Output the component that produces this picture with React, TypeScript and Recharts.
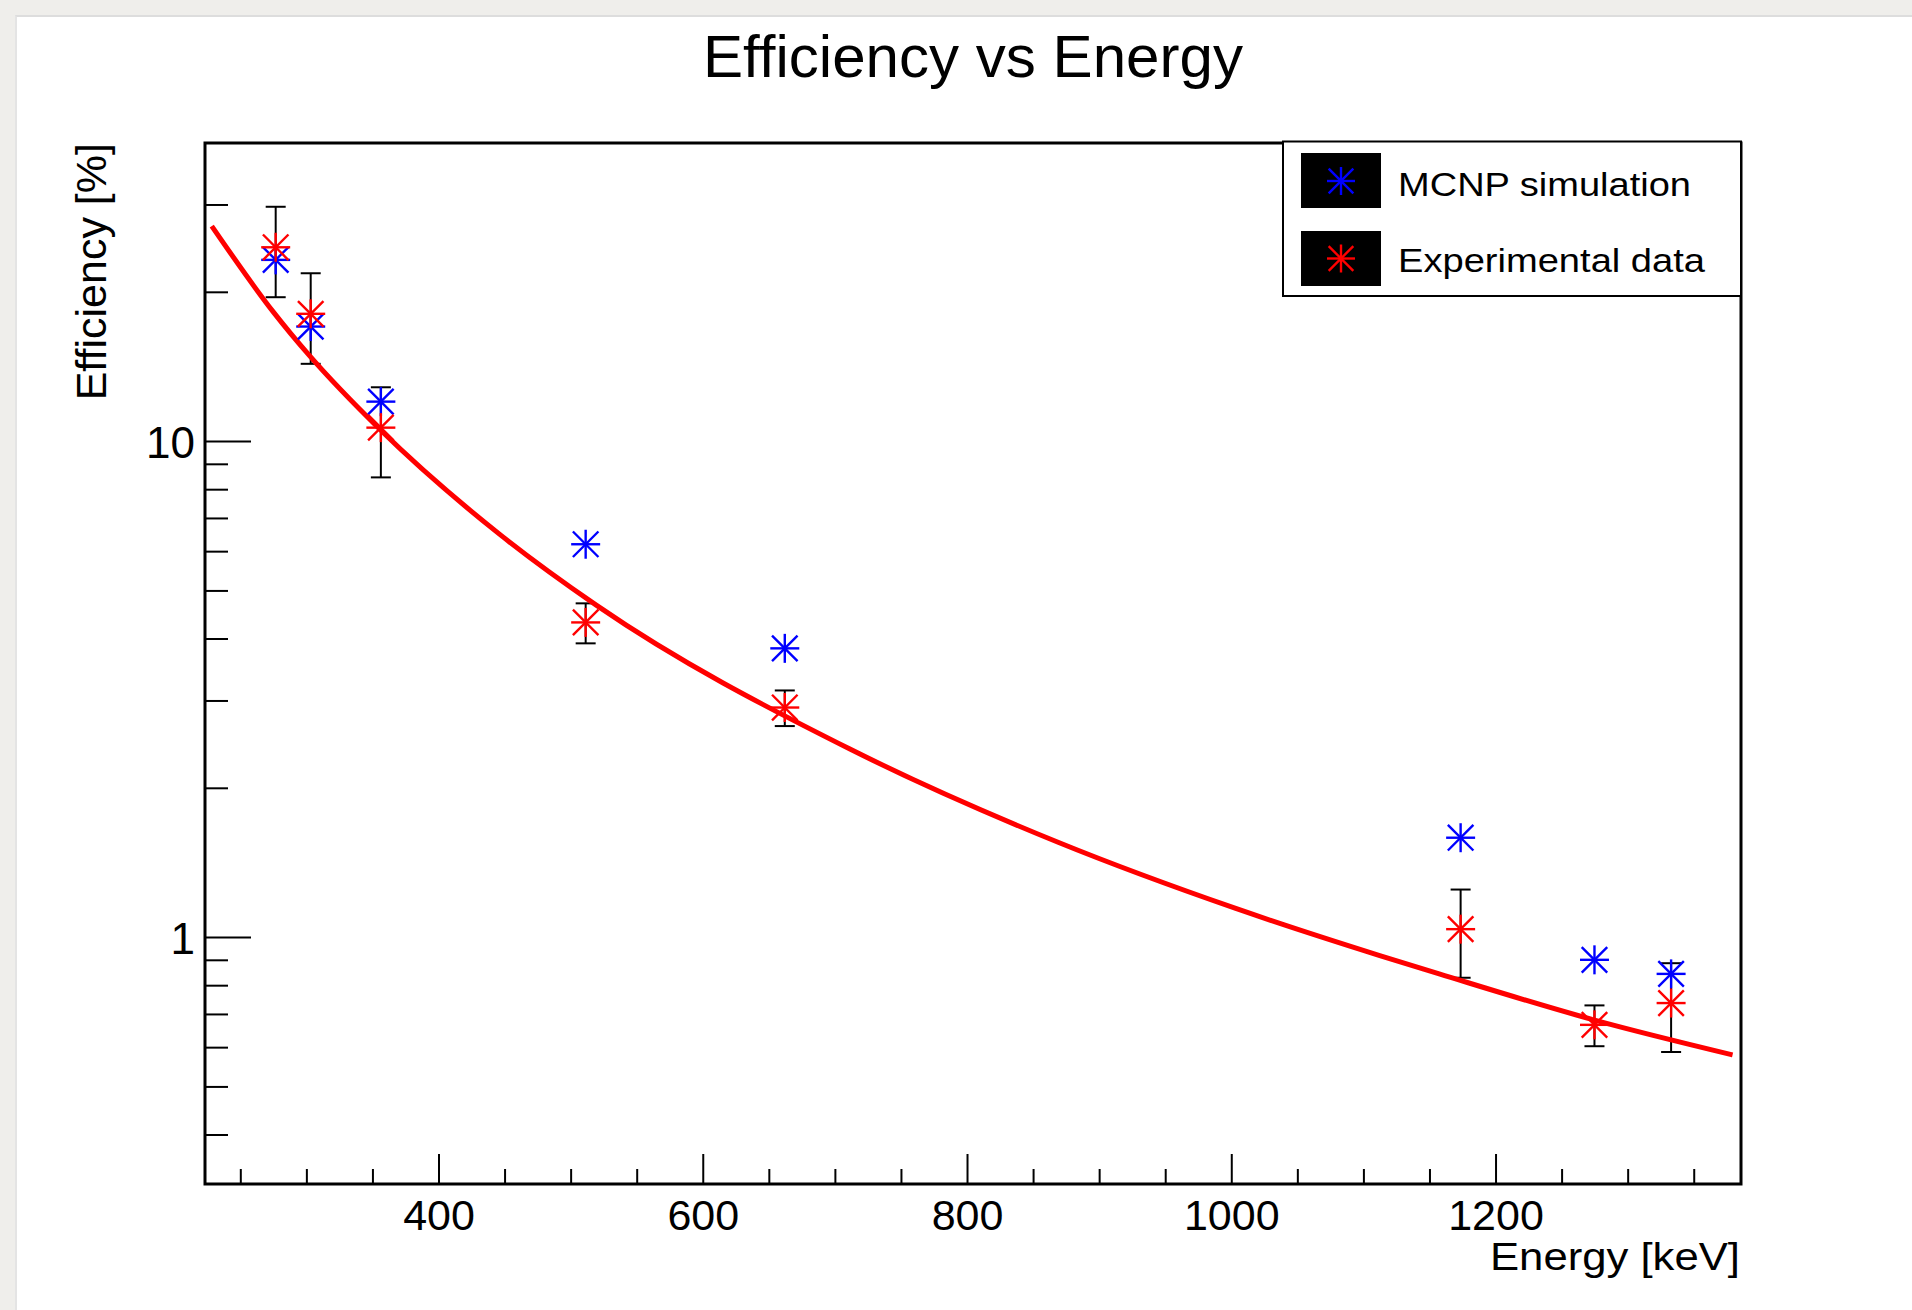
import React from 'react';
import { ScatterChart, Scatter, XAxis, YAxis, ErrorBar, ReferenceArea } from 'recharts';

// ---- data ----
const energies = [276.4, 302.9, 356.0, 511.0, 661.7, 1173.2, 1274.5, 1332.5];
const mcnpEff = [23.25, 17.06, 12.04, 6.21, 3.83, 1.59, 0.902, 0.845];
const expEff = [24.65, 18.1, 10.67, 4.32, 2.91, 1.04, 0.667, 0.738];
const expErr = [5.1, 3.75, 2.2, 0.4, 0.24, 0.21, 0.063, 0.15];
const fitEnergy = [228, 275, 302, 355, 446, 519, 711, 869, 1003, 1112, 1157, 1276, 1379];
const fitEff = [27.2, 18.2, 14.9, 10.6, 6.5, 4.68, 2.4, 1.555, 1.145, 0.92, 0.845, 0.68, 0.58];

const xDomain = [222.9, 1385.4];
const yDomain = [0.3186, 40];
const xTicks = [250, 300, 350, 400, 450, 500, 550, 600, 650, 700, 750, 800, 850, 900, 950, 1000, 1050, 1100, 1150, 1200, 1250, 1300, 1350];
const xMajor = [400, 600, 800, 1000, 1200];
const yTicks = [0.4, 0.5, 0.6, 0.7, 0.8, 0.9, 1, 2, 3, 4, 5, 6, 7, 8, 9, 10, 20, 30];
const yMajor = [1, 10];

const seriesNames = ['MCNP simulation', 'Experimental data'];
const BLUE = '#0000ff';
const RED = '#ff0000';
const FONT = '"Liberation Sans", Arial, Helvetica, sans-serif';

const mcnpData = energies.map((e, i) => ({ x: e, y: mcnpEff[i] }));
const expData = energies.map((e, i) => ({ x: e, y: expEff[i], err: expErr[i] }));
const fitData = fitEnergy.map((e, i) => ({ x: e, y: fitEff[i] }));

function StarGlyph({ cx, cy, color, r = 14.5 }: { cx: number; cy: number; color: string; r?: number }) {
  const d = r * 0.88;
  return (
    <g stroke={color} strokeWidth={2.4} strokeLinecap="butt">
      <line x1={cx - r} y1={cy} x2={cx + r} y2={cy} />
      <line x1={cx} y1={cy - r} x2={cx} y2={cy + r} />
      <line x1={cx - d} y1={cy - d} x2={cx + d} y2={cy + d} />
      <line x1={cx - d} y1={cy + d} x2={cx + d} y2={cy - d} />
    </g>
  );
}

const makeStar = (color: string) => (props: any) => {
  const { cx, cy } = props;
  if (cx == null || cy == null) return <g />;
  return <StarGlyph cx={cx} cy={cy} color={color} />;
};

const XTick = (props: any) => {
  const { x, y, payload } = props;
  const v = payload.value;
  const major = xMajor.includes(v);
  const len = major ? 30 : 15;
  return (
    <g>
      <line x1={x} y1={y} x2={x} y2={y - len} stroke="#000" strokeWidth={2} />
      {major && (
        <text x={x} y={y + 46} textAnchor="middle" fontSize={43} fontFamily={FONT} fill="#000">
          {v}
        </text>
      )}
    </g>
  );
};

const YTick = (props: any) => {
  const { x, y, payload } = props;
  const v = payload.value;
  const major = yMajor.includes(v);
  const len = major ? 46 : 23;
  return (
    <g>
      <line x1={x} y1={y} x2={x + len} y2={y} stroke="#000" strokeWidth={2} />
      {major && (
        <text x={x - 10} y={y + 16} textAnchor="end" fontSize={44} fontFamily={FONT} fill="#000">
          {v}
        </text>
      )}
    </g>
  );
};

export default function App() {
  return (
    <div style={{ position: 'absolute', left: 0, top: 0, width: 1912, height: 1310, background: '#efeeeb', overflow: 'hidden', fontFamily: FONT }}>
      <div style={{ position: 'absolute', left: 15, top: 15, right: 0, bottom: 0, background: '#ffffff', borderTop: '2px solid #dddddd', borderLeft: '2px solid #e4e4e4' }} />
      <div style={{ position: 'absolute', left: 0, top: 0 }}>
        <ScatterChart width={1912} height={1310} margin={{ top: 143, right: 171, bottom: 125, left: 204 }}>
          <XAxis
            type="number"
            dataKey="x"
            domain={xDomain}
            allowDataOverflow
            ticks={xTicks}
            tick={XTick}
            tickLine={false}
            tickSize={0}
            tickMargin={0}
            axisLine={false}
            height={1}
            interval={0}
          />
          <YAxis
            type="number"
            dataKey="y"
            scale="log"
            domain={yDomain}
            allowDataOverflow
            ticks={yTicks}
            tick={YTick}
            tickLine={false}
            tickSize={0}
            tickMargin={0}
            axisLine={false}
            width={1}
            interval={0}
          />
          <ReferenceArea x1={xDomain[0]} x2={xDomain[1]} y1={yDomain[0]} y2={yDomain[1]} fill="none" fillOpacity={0} stroke="#000" strokeWidth={3} />
          <Scatter
            name="fit"
            data={fitData}
            line={{ stroke: RED, strokeWidth: 5 }}
            lineJointType="monotoneX"
            shape={() => <g />}
            isAnimationActive={false}
          />
          <Scatter name={seriesNames[0]} data={mcnpData} shape={makeStar(BLUE)} isAnimationActive={false} />
          <Scatter name={seriesNames[1]} data={expData} shape={makeStar(RED)} isAnimationActive={false}>
            <ErrorBar dataKey="err" direction="y" width={10} stroke="#000" strokeWidth={2} isAnimationActive={false} />
          </Scatter>
        </ScatterChart>
      </div>
      <svg width={1912} height={1310} style={{ position: 'absolute', left: 0, top: 0, pointerEvents: 'none' }}>
        <text x={973} y={77} textAnchor="middle" fontSize={59} fontFamily={FONT} fill="#000" textLength={540} lengthAdjust="spacingAndGlyphs">
          Efficiency vs Energy
        </text>
        <text x={1740} y={1270} textAnchor="end" fontSize={38} fontFamily={FONT} fill="#000" textLength={250} lengthAdjust="spacingAndGlyphs">
          Energy [keV]
        </text>
        <text transform="translate(106,143) rotate(-90)" x={0} y={0} textAnchor="end" fontSize={43} fontFamily={FONT} fill="#000">
          Efficiency [%]
        </text>
        <g>
          <rect x={1283} y={141.5} width={458} height={154.5} fill="#fff" stroke="#000" strokeWidth={2} />
          <rect x={1301} y={153} width={80} height={55} fill="#000" />
          <rect x={1301} y={231} width={80} height={55} fill="#000" />
          <StarGlyph cx={1341} cy={181} color={BLUE} r={14} />
          <StarGlyph cx={1341} cy={258.5} color={RED} r={14} />
          <text x={1398} y={196} fontSize={33} fontFamily={FONT} fill="#000" textLength={293} lengthAdjust="spacingAndGlyphs">
            {seriesNames[0]}
          </text>
          <text x={1398} y={272} fontSize={33} fontFamily={FONT} fill="#000" textLength={307} lengthAdjust="spacingAndGlyphs">
            {seriesNames[1]}
          </text>
        </g>
      </svg>
    </div>
  );
}
